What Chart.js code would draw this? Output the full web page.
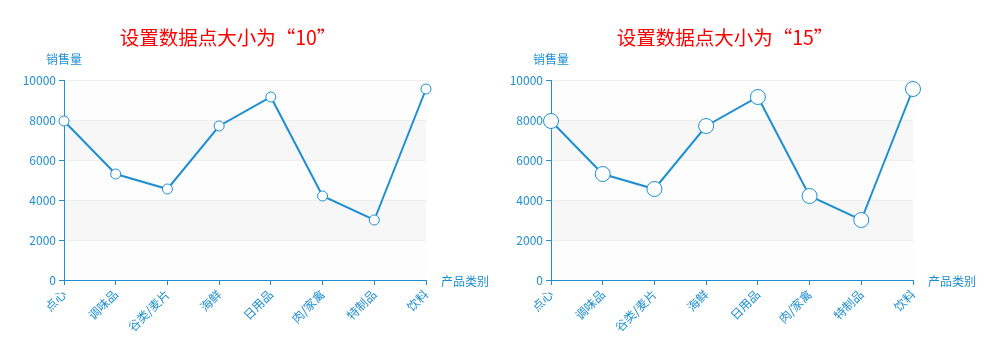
<!DOCTYPE html>
<html>
<head>
<meta charset="utf-8">
<script src="https://cdn.jsdelivr.net/npm/chart.js@4/dist/chart.umd.min.js"></script>
<style>
  html, body { margin: 0; padding: 0; background: #fff; }
  body { width: 1006px; height: 358px; position: relative; overflow: hidden; }
  .box { position: absolute; top: 0; width: 503px; height: 358px; }
  #b1 { left: 0; }
  #b2 { left: 487px; }
</style>
</head>
<body>
<div class="box" id="b1"><canvas id="c1"></canvas></div>
<div class="box" id="b2"><canvas id="c2"></canvas></div>
<script>
const categories = ['点心', '调味品', '谷类/麦片', '海鲜', '日用品', '肉/家禽', '特制品', '饮料'];
const sales = [7950, 5300, 4550, 7700, 9150, 4200, 3000, 9550];
const titles = ['设置数据点大小为“10”', '设置数据点大小为“15”'];
const symbolSizes = [10, 15];
const yTicks = [0, 2000, 4000, 6000, 8000, 10000];
const yAxisName = '销售量';
const xAxisName = '产品类别';

const BLUE = '#1e8fd0';
const FONT = '"Noto Sans CJK SC", "Noto Sans", sans-serif';

function decorPlugin(titleText, titleX) {
  return {
    id: 'decor',
    beforeDraw(chart) {
      const { ctx, chartArea: a, scales: { y } } = chart;
      ctx.save();
      for (let i = 0; i < yTicks.length - 1; i++) {
        const top = y.getPixelForValue(yTicks[i + 1]);
        const bot = y.getPixelForValue(yTicks[i]);
        ctx.fillStyle = (i % 2 === 1) ? 'rgba(240,240,240,0.5)' : 'rgba(250,250,250,0.3)';
        ctx.fillRect(a.left, top, a.right - a.left, bot - top);
      }
      ctx.restore();
    },
    afterDraw(chart) {
      const { ctx, chartArea: a } = chart;
      ctx.save();
      ctx.fillStyle = '#ff0000';
      ctx.font = '19.5px ' + FONT;
      ctx.textAlign = 'center';
      ctx.textBaseline = 'middle';
      ctx.fillText(titleText, titleX, 38);
      ctx.fillStyle = BLUE;
      ctx.font = '12px ' + FONT;
      ctx.textAlign = 'center';
      ctx.fillText(yAxisName, a.left, 59);
      ctx.textAlign = 'left';
      ctx.fillText(xAxisName, a.right + 15, 281);
      ctx.restore();
    }
  };
}

function makeChart(id, idx, titleX) {
  const r = symbolSizes[idx] / 2;
  return new Chart(document.getElementById(id), {
    type: 'line',
    data: {
      labels: categories,
      datasets: [{
        data: sales,
        borderColor: BLUE,
        borderWidth: 2,
        tension: 0,
        fill: false,
        pointRadius: r,
        pointHoverRadius: r,
        pointBorderWidth: 1,
        pointBorderColor: BLUE,
        pointBackgroundColor: '#ffffff',
        clip: false
      }]
    },
    options: {
      responsive: false,
      animation: false,
      events: [],
      devicePixelRatio: 1,
      layout: { padding: { left: 0, top: 80, right: 77, bottom: 0 } },
      plugins: { legend: { display: false }, title: { display: false }, tooltip: { enabled: false } },
      scales: {
        x: {
          type: 'category',
          offset: false,
          grid: { drawOnChartArea: false, drawTicks: true, tickLength: 5, tickColor: BLUE },
          border: { display: true, color: BLUE, width: 1 },
          ticks: {
            color: BLUE, font: { family: FONT, size: 12 },
            autoSkip: false, minRotation: 45, maxRotation: 45, padding: 2
          },
          afterFit(s) { s.height = 78; }
        },
        y: {
          min: 0, max: 10000,
          grid: { color: '#eeeeee', lineWidth: 1, drawTicks: true, tickLength: 5, tickColor: BLUE },
          border: { display: true, color: BLUE, width: 1 },
          ticks: {
            stepSize: 2000, color: BLUE, font: { family: FONT, size: 12 }, padding: 3,
            callback: (v) => String(v)
          },
          afterFit(s) { s.width = 64; }
        }
      }
    },
    plugins: [decorPlugin(titles[idx], titleX)]
  });
}

for (const c of ['c1', 'c2']) {
  const el = document.getElementById(c);
  el.width = 503; el.height = 358;
  el.style.width = '503px'; el.style.height = '358px';
}
makeChart('c1', 0, 228);
makeChart('c2', 1, 238);
</script>
</body>
</html>
